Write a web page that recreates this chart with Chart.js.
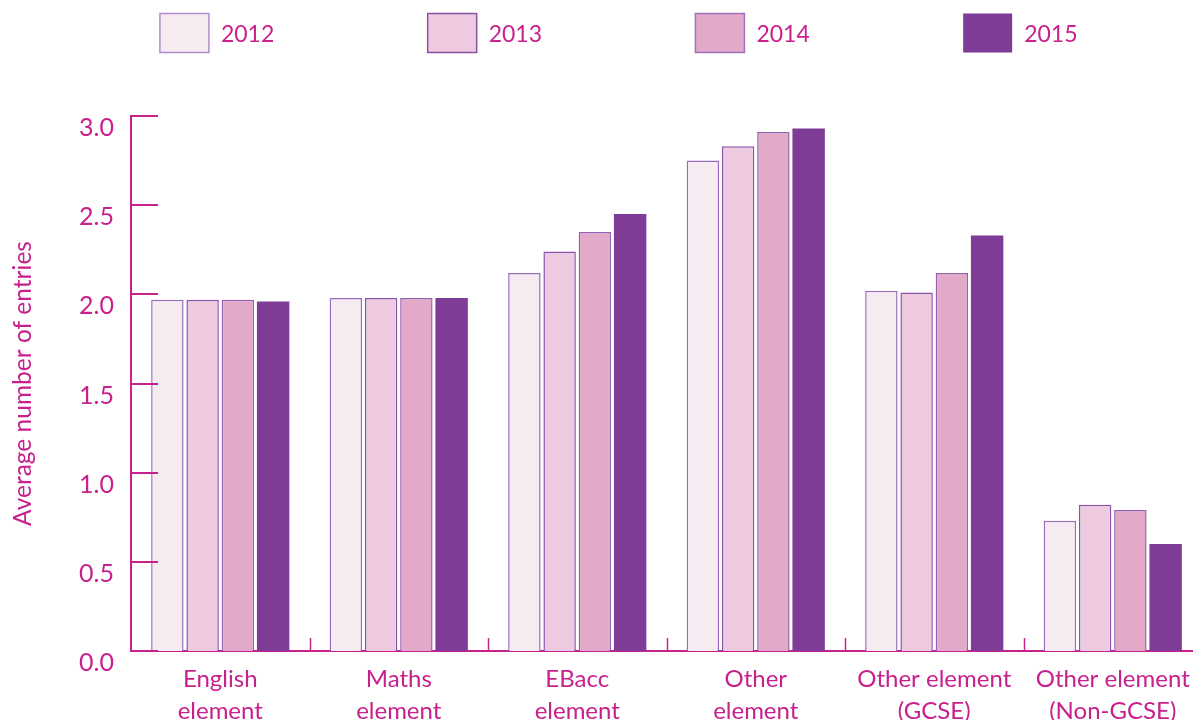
<!DOCTYPE html>
<html><head><meta charset="utf-8">
<script src="https://cdn.jsdelivr.net/npm/chart.js@4.4.1/dist/chart.umd.min.js"></script>
<style>
html,body{margin:0;padding:0;background:#fff;overflow:hidden;}
#wrap{width:1193px;height:720px;overflow:hidden;position:relative;background:#fff;}
canvas{display:block;}
</style></head><body>
<div id="wrap"><canvas id="c" width="1212" height="720"></canvas></div>
<script>
const categories = [
  ['English', 'element'],
  ['Maths', 'element'],
  ['EBacc', 'element'],
  ['Other', 'element'],
  ['Other element', '(GCSE)'],
  ['Other element', '(Non-GCSE)']
];
const years = ['2012', '2013', '2014', '2015'];
const values2012 = [1.97, 1.98, 2.12, 2.75, 2.02, 0.73];
const values2013 = [1.97, 1.98, 2.24, 2.83, 2.01, 0.82];
const values2014 = [1.97, 1.98, 2.35, 2.91, 2.12, 0.79];
const values2015 = [1.96, 1.98, 2.45, 2.93, 2.33, 0.60];
const yMin = 0, yMax = 3, yStep = 0.5;

const MAGENTA = '#c8208c';
const FONT = 'Lato, "Open Sans", sans-serif';
const fills = ['#f7ebf2', '#edcae0', '#e3a9c9', '#7e3c96'];
const borders = ['#9a6cc0', '#8a52ab', '#9560b2', '#7e3c96'];
const legendBorders = ['#b08ccc', '#8d52a8', '#a070bc', null];
const seriesValues = [values2012, values2013, values2014, values2015];

const topLegend = {
  id: 'topLegend',
  afterDraw(chart) {
    const { ctx, chartArea } = chart;
    const n = chart.data.datasets.length;
    const q = chartArea.width / n;
    chart.data.datasets.forEach((ds, i) => {
      const bw = 49, bh = 39;
      const bx = chartArea.left + i * q + q * 0.108;
      const by = 13.5;
      ctx.save();
      ctx.fillStyle = ds.backgroundColor;
      ctx.fillRect(bx, by, bw, bh);
      if (legendBorders[i]) {
        ctx.strokeStyle = legendBorders[i];
        ctx.lineWidth = 1.5;
        ctx.strokeRect(bx, by, bw, bh);
      }
      ctx.fillStyle = MAGENTA;
      ctx.font = '23px ' + FONT;
      ctx.textBaseline = 'middle';
      ctx.textAlign = 'left';
      ctx.fillText(ds.label, bx + bw + 12, by + bh / 2 + 2);
      ctx.restore();
    });
  }
};

const innerTicks = {
  id: 'innerTicks',
  afterDatasetsDraw(chart) {
    const { ctx, chartArea, scales: { x, y } } = chart;
    ctx.save();
    ctx.strokeStyle = MAGENTA;
    ctx.lineWidth = 2;
    y.ticks.forEach(t => {
      const py = Math.round(y.getPixelForValue(t.value));
      ctx.beginPath();
      ctx.moveTo(chartArea.left, py);
      ctx.lineTo(chartArea.left + 27, py);
      ctx.stroke();
    });
    ctx.lineWidth = 1.5;
    for (let i = 1; i < x.ticks.length; i++) {
      const px = Math.round((x.getPixelForValue(i - 1) + x.getPixelForValue(i)) / 2) + 0.5;
      ctx.beginPath();
      ctx.moveTo(px, chartArea.bottom);
      ctx.lineTo(px, chartArea.bottom - 13);
      ctx.stroke();
    }
    ctx.restore();
  }
};

new Chart(document.getElementById('c'), {
  type: 'bar',
  data: {
    labels: categories,
    datasets: years.map((yr, i) => ({
      label: yr,
      data: seriesValues[i],
      backgroundColor: fills[i],
      borderColor: borders[i],
      borderWidth: i === 3 ? 0 : 1.5,
      categoryPercentage: 0.79,
      barPercentage: 0.92
    }))
  },
  options: {
    responsive: false,
    animation: false,
    devicePixelRatio: 1,
    layout: { padding: { top: 116, left: 0, right: 10, bottom: 0 } },
    plugins: { legend: { display: false }, tooltip: { enabled: false } },
    scales: {
      x: {
        ticks: { color: MAGENTA, font: { family: FONT, size: 24, lineHeight: 1.3 }, padding: 13, maxRotation: 0, minRotation: 0, autoSkip: false },
        grid: { display: false, drawTicks: false },
        border: { display: true, color: MAGENTA, width: 2 },
        afterFit(s) { s.height = 69; }
      },
      y: {
        min: yMin, max: yMax,
        ticks: { stepSize: yStep, color: MAGENTA, font: { family: FONT, size: 25 }, padding: 17, labelOffset: 12,
                 callback: v => Number(v).toFixed(1) },
        grid: { display: false, drawTicks: false },
        border: { display: true, color: MAGENTA, width: 2 },
        title: { display: true, text: 'Average number of entries', color: MAGENTA, font: { family: FONT, size: 24.5 }, padding: { top: 8, bottom: 0 } },
        afterFit(s) { s.width = 131; }
      }
    }
  },
  plugins: [innerTicks, topLegend]
});
</script>
</body></html>
